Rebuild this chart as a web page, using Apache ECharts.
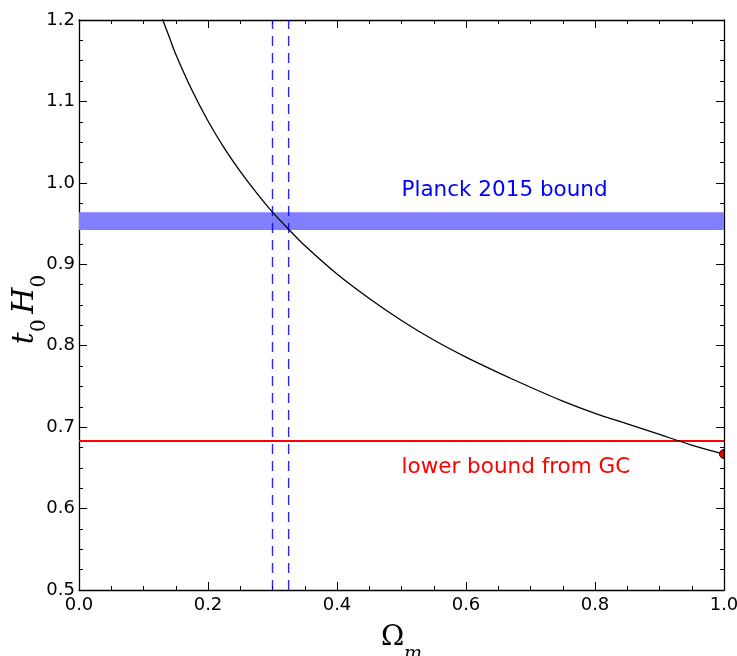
<!DOCTYPE html>
<html>
<head>
<meta charset="utf-8">
<script src="https://cdn.jsdelivr.net/npm/echarts@6/dist/echarts.min.js"></script>
<style>
html,body{margin:0;padding:0;background:#fff;}
#chart{width:737px;height:656px;}
</style>
</head>
<body>
<div id="chart"></div>
<script>
// Curve t0*H0 versus Omega_m
const omegaM = [0.12, 0.13, 0.14, 0.15, 0.175, 0.2, 0.225, 0.25, 0.275, 0.3, 0.325, 0.35, 0.4, 0.45, 0.5, 0.55, 0.6, 0.65, 0.7, 0.75, 0.8, 0.85, 0.9, 0.95, 1.0];
const t0H0 = [1.224, 1.200, 1.179, 1.158, 1.114, 1.076, 1.043, 1.014, 0.988, 0.964, 0.943, 0.923, 0.888, 0.858, 0.831, 0.807, 0.786, 0.767, 0.749, 0.732, 0.717, 0.704, 0.691, 0.678, 0.667];
// Planck 2015 band (lower, upper)
const planckBand = [0.942, 0.964];
// vertical dashed lines
const omegaLines = [0.30, 0.325];
// lower bound from GC
const gcBound = 0.683;
// red point
const redPoint = [1.0, 0.667];
// labels
const planckLabel = 'Planck 2015 bound';
const gcLabel = 'lower bound from GC';
const xRange = [0, 1];
const yRange = [0.5, 1.2];

const curve = omegaM.map((x, i) => [x, t0H0[i]]);

const tickFont = {fontFamily: 'DejaVu Sans', fontSize: 18, color: '#000'};
const axisCommon = {
  axisLine: {show: true, onZero: false, lineStyle: {color: '#000', width: 1.3}},
  axisTick: {show: true, inside: true, length: 8, lineStyle: {color: '#000', width: 1}},
  minorTick: {show: true, splitNumber: 4, length: 4, lineStyle: {color: '#000', width: 1}},
  splitLine: {show: false},
  minorSplitLine: {show: false}
};

const chart = echarts.init(document.getElementById('chart'), null, {renderer: 'canvas'});
const option = {
  backgroundColor: '#fff',
  animation: false,
  grid: {left: 79, right: 13, top: 20, bottom: 66, containLabel: false, outerBoundsMode: 'none'},
  xAxis: [
    Object.assign({
      type: 'value', min: xRange[0], max: xRange[1], interval: 0.2, position: 'bottom',
      axisLabel: Object.assign({show: true, margin: 6, hideOverlap: false, formatter: v => v.toFixed(1)}, tickFont),
      name: '{O|Ω}{m|m}', nameLocation: 'middle', nameGap: 34, nameMoveOverlap: false,
      nameTextStyle: {rich: {
        O: {fontFamily: 'DejaVu Serif', fontSize: 28, color: '#000', verticalAlign: 'top', lineHeight: 40},
        m: {fontFamily: 'DejaVu Serif', fontStyle: 'italic', fontSize: 19, color: '#000', verticalAlign: 'bottom', lineHeight: 40}
      }}
    }, axisCommon),
    Object.assign({
      type: 'value', min: xRange[0], max: xRange[1], interval: 0.2, position: 'top',
      axisLabel: {show: false}
    }, axisCommon)
  ],
  yAxis: [
    Object.assign({
      type: 'value', min: yRange[0], max: yRange[1], interval: 0.1, position: 'left',
      axisLabel: Object.assign({show: true, margin: 4, hideOverlap: false, formatter: v => v.toFixed(1)}, tickFont),
      name: '{t|t}{s|0}{g|\u2009}{t|H}{s|0}', nameLocation: 'middle', nameRotate: 90, nameGap: 29, nameMoveOverlap: false,
      nameTextStyle: {padding: [0, 9, 0, 0], rich: {
        t: {fontFamily: 'DejaVu Serif', fontStyle: 'italic', fontSize: 30, color: '#000', verticalAlign: 'top', lineHeight: 40},
        s: {fontFamily: 'DejaVu Serif', fontSize: 20, color: '#000', verticalAlign: 'bottom', lineHeight: 40},
        g: {fontFamily: 'DejaVu Serif', fontSize: 28, lineHeight: 40, verticalAlign: 'bottom'}
      }}
    }, axisCommon),
    Object.assign({
      type: 'value', min: yRange[0], max: yRange[1], interval: 0.1, position: 'right',
      axisLabel: {show: false}
    }, axisCommon)
  ],
  series: [
    {
      type: 'custom', z: 1, silent: true, clip: true,
      data: [[xRange[0], planckBand[0], xRange[1], planckBand[1]]],
      renderItem: function (params, api) {
        const a = api.coord([api.value(0), api.value(1)]);
        const b = api.coord([api.value(2), api.value(3)]);
        return {
          type: 'rect',
          shape: {x: a[0], y: b[1], width: b[0] - a[0], height: a[1] - b[1]},
          style: {fill: '#8080ff'}
        };
      }
    },
    ...omegaLines.map(v => ({
      type: 'line', z: 2, silent: true, showSymbol: false, clip: true,
      data: [[v, yRange[0]], [v, yRange[1]]],
      lineStyle: {color: '#0000ff', width: 1.4, type: [10, 7], opacity: 0.85}
    })),
    {
      type: 'line', z: 3, silent: true, showSymbol: false, clip: true,
      data: [[xRange[0], gcBound], [xRange[1], gcBound]],
      lineStyle: {color: '#ff0000', width: 2}
    },
    {
      type: 'line', data: curve, z: 4, clip: true, showSymbol: false, smooth: 0.25, silent: true,
      lineStyle: {color: '#000', width: 1.3}
    },
    {
      type: 'custom', z: 5, silent: true, clip: true,
      data: [redPoint],
      renderItem: function (params, api) {
        const p = api.coord([api.value(0), api.value(1)]);
        return {
          type: 'sector',
          shape: {cx: p[0], cy: p[1], r0: 0, r: 4.5, startAngle: Math.PI / 2, endAngle: Math.PI * 3 / 2, clockwise: true},
          style: {fill: '#ff0000', stroke: '#000', lineWidth: 1}
        };
      }
    },
    {
      type: 'scatter', z: 6, silent: true, symbolSize: 0, itemStyle: {opacity: 1},
      data: [
        {value: [0.5, 0.991], label: {formatter: planckLabel, color: '#0000ff'}},
        {value: [0.5, 0.651], label: {formatter: gcLabel, color: '#ff0000'}}
      ],
      label: {show: true, position: [0, 0], align: 'left', verticalAlign: 'middle', fontFamily: 'DejaVu Sans', fontSize: 21.5, textBorderWidth: 0, opacity: 1}
    }
  ]
};
chart.setOption(option);
</script>
</body>
</html>
